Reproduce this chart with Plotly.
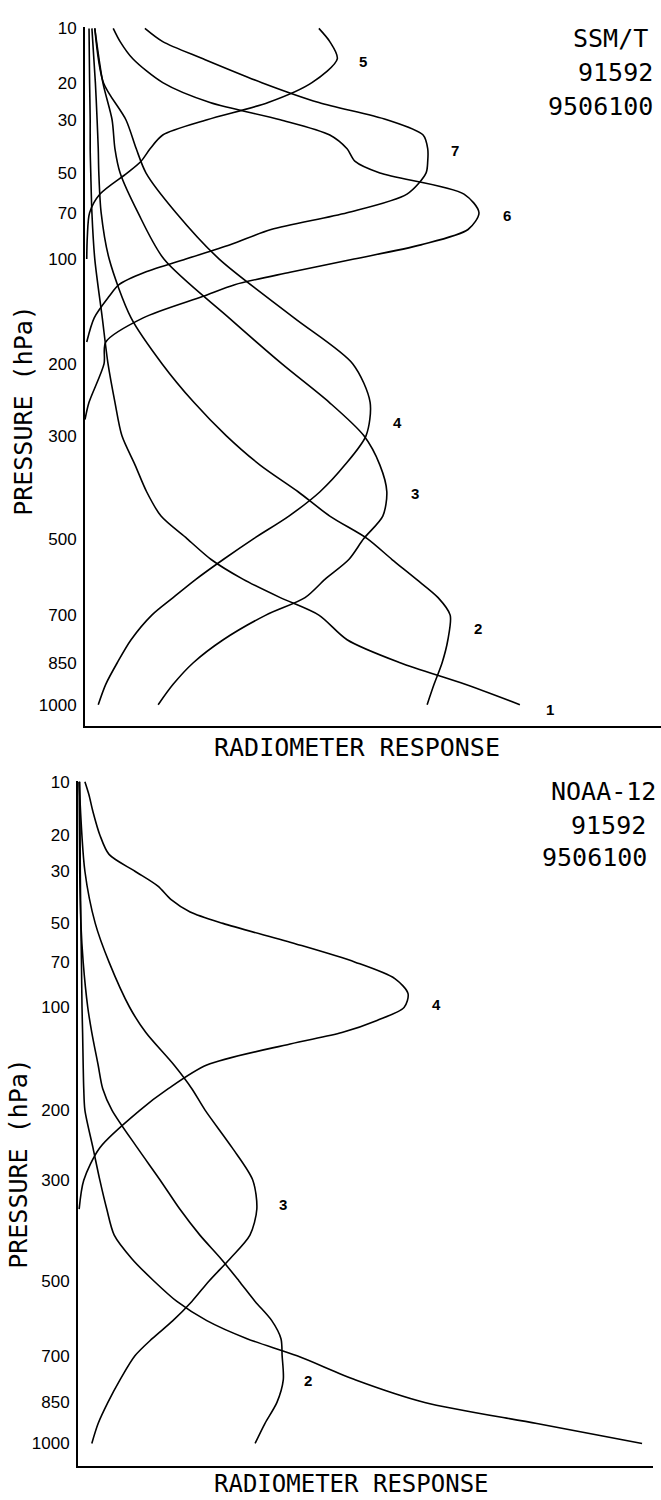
import numpy as np
import plotly.graph_objects as go

# ---------------- data ----------------
KAPPA = 0.286  # pressure axis drawn in p**kappa (height-like) coordinates

PRESSURE_TICKS = [10, 20, 30, 50, 70, 100, 200, 300, 500, 700, 850, 1000]
PRESSURE_TICK_TEXT = ["10", "20", "30", "50", "70", "100", "200", "300", "500", "700", "850", "1000"]

# --- SSM/T (top panel) ---
ssmt_p_grid = [10, 20, 30, 40, 50, 70, 100, 150, 200, 250, 300, 350, 400, 450, 500,
               550, 600, 650, 700, 775, 850, 925, 1000]
ssmt_ch1 = [0.7, 0.8, 0.9, 0.9, 1.0, 1.2, 1.7, 3.0, 4.0, 5.2, 6.4, 8.7, 10.7, 13.2, 17.7,
            21.9, 27.4, 33.9, 40.6, 45.5, 54.7, 66.0, 75.5]
ssmt_ch2 = [1.2, 1.8, 2.1, 2.3, 2.4, 2.8, 4.2, 8.0, 13.4, 18.9, 24.5, 30.4, 37.0, 42.5, 49.0,
            53.3, 57.5, 61.3, 63.4, 63.0, 62.0, 60.6, 59.4]
ssmt_ch3 = [1.7, 3.1, 4.7, 5.2, 6.1, 9.2, 13.7, 25.0, 34.2, 42.4, 48.4, 51.2, 52.4, 51.7, 48.4,
            45.8, 41.7, 38.2, 31.4, 24.0, 18.8, 15.3, 12.7]
ssmt_ch4 = [1.7, 3.2, 7.1, 8.9, 10.6, 15.8, 23.3, 36.3, 46.5, 49.5, 48.8, 45.1, 40.8, 35.4, 29.3,
            24.0, 19.3, 15.3, 11.6, 8.0, 5.6, 3.6, 2.3]

ssmt_ch5_p = [10, 12, 15, 20, 25, 30, 35, 40, 45, 50, 60, 70, 85, 100]
ssmt_ch5 = [40.6, 42.5, 43.8, 39.4, 31.8, 21.2, 13.5, 11.3, 9.7, 7.3, 2.6, 0.8, 0.4, 0.3]

ssmt_ch6_p = [10, 12, 15, 20, 25, 30, 35, 40, 45, 50, 60, 70, 80, 90, 100, 110, 120, 130,
              150, 175, 200, 250, 275]
ssmt_ch6 = [4.9, 6.1, 8.3, 13.5, 21.7, 33.9, 42.5, 45.5, 46.9, 51.2, 65.8, 68.4, 66.5, 58.3,
            46.7, 35.6, 26.0, 20.5, 10.1, 3.6, 3.3, 0.7, 0.0]

ssmt_ch7_p = [10, 12, 15, 20, 25, 30, 35, 40, 45, 50, 60, 70, 80, 90, 100, 110, 120, 130,
              150, 175]
ssmt_ch7 = [10.4, 13.5, 20.5, 30.7, 40.6, 52.4, 58.7, 59.5, 59.5, 59.2, 55.9, 45.5, 32.3, 25.2,
            17.5, 10.4, 5.9, 4.2, 1.6, 0.3]

ssmt_label_text = ["1", "2", "3", "4", "5", "6", "7"]
ssmt_label_p = [1019, 739, 404, 280, 15.6, 71.6, 40.7]
ssmt_label_r = [80.7, 68.2, 57.3, 54.3, 48.3, 73.3, 64.2]

# --- NOAA-12 (bottom panel) ---
noaa_p_grid = [10, 30, 50, 70, 100, 120, 150, 175, 200, 250, 300, 350, 400, 450, 500,
               550, 600, 650, 700, 775, 850, 925, 1000]
noaa_ch1 = [0.3, 0.4, 0.5, 0.6, 0.7, 0.8, 0.9, 1.0, 1.2, 2.6, 3.8, 5.0, 6.3, 9.4, 13.2,
            17.2, 22.4, 29.4, 38.1, 48.3, 60.3, 79.8, 98.1]
noaa_ch2 = [0.2, 0.3, 0.5, 0.9, 1.7, 2.4, 3.5, 4.3, 5.9, 10.3, 14.3, 17.7, 21.2, 24.9, 28.0,
            30.8, 33.7, 35.3, 35.5, 35.7, 34.6, 32.5, 30.8]
noaa_ch3 = [0.2, 1.2, 3.0, 5.4, 9.0, 11.8, 16.7, 19.8, 22.1, 26.8, 30.4, 31.1, 29.9, 26.4, 22.8,
            19.8, 16.5, 12.9, 9.9, 7.3, 5.2, 3.5, 2.4]

noaa_ch4_p = [10, 12, 15, 20, 25, 30, 35, 40, 45, 50, 60, 70, 80, 90, 100, 110, 120, 130,
              150, 175, 200, 250, 300, 350]
noaa_ch4 = [1.2, 1.9, 2.6, 3.8, 5.4, 9.9, 13.9, 16.2, 19.5, 25.2, 37.9, 48.2, 55.1, 57.4,
            56.7, 52.0, 45.9, 36.9, 22.4, 15.7, 10.8, 3.8, 1.0, 0.2]

noaa_label_text = ["2", "3", "4"]
noaa_label_p = [777, 342, 97.9]
noaa_label_r = [40.0, 35.7, 62.4]


def tp(p):
    return np.power(np.asarray(p, dtype=float), KAPPA)


W, H = 661, 1500
LINE = dict(color="black", width=1.6, shape="spline", smoothing=0.8)
MONO = "DejaVu Sans Mono"

fig = go.Figure()

top_series = [(ssmt_p_grid, ssmt_ch1), (ssmt_p_grid, ssmt_ch2), (ssmt_p_grid, ssmt_ch3),
              (ssmt_p_grid, ssmt_ch4), (ssmt_ch5_p, ssmt_ch5), (ssmt_ch6_p, ssmt_ch6),
              (ssmt_ch7_p, ssmt_ch7)]
for p, r in top_series:
    fig.add_trace(go.Scatter(x=r, y=tp(p), mode="lines", line=LINE, xaxis="x", yaxis="y",
                             showlegend=False, hoverinfo="skip"))

bot_series = [(noaa_p_grid, noaa_ch1), (noaa_p_grid, noaa_ch2), (noaa_p_grid, noaa_ch3),
              (noaa_ch4_p, noaa_ch4)]
for p, r in bot_series:
    fig.add_trace(go.Scatter(x=r, y=tp(p), mode="lines", line=LINE, xaxis="x2", yaxis="y2",
                             showlegend=False, hoverinfo="skip"))

# axis geometry (pixels)
top_ax = dict(left=85, right=661, top=19, bottom=722, px_per_unit=128.8, y10=20.5)
bot_ax = dict(left=78, right=653, top=777, bottom=1466, px_per_unit=126.0, y10=778)


def yrange(ax):
    t10 = tp(10)
    t_top = t10 - (ax["y10"] - ax["top"]) / ax["px_per_unit"]
    t_bot = t10 + (ax["bottom"] - ax["y10"]) / ax["px_per_unit"]
    return [t_bot, t_top]


common_x = dict(range=[0, 100], showline=True, linecolor="black", linewidth=2,
                showticklabels=False, ticks="", showgrid=False, zeroline=False)
common_y = dict(tickvals=list(tp(PRESSURE_TICKS)), ticktext=PRESSURE_TICK_TEXT,
                showline=True, linecolor="black", linewidth=2, showgrid=False,
                zeroline=False, ticks="", ticklabelstandoff=3,
                tickfont=dict(family="Liberation Sans", size=17, color="black"))

fig.update_layout(
    width=W, height=H, margin=dict(l=0, r=0, t=0, b=0),
    paper_bgcolor="white", plot_bgcolor="white", showlegend=False,
    xaxis=dict(domain=[top_ax["left"] / W, top_ax["right"] / W], anchor="y", **common_x),
    yaxis=dict(domain=[1 - top_ax["bottom"] / H, 1 - top_ax["top"] / H], range=yrange(top_ax),
               anchor="x", **common_y),
    xaxis2=dict(domain=[bot_ax["left"] / W, bot_ax["right"] / W], anchor="y2", **common_x),
    yaxis2=dict(domain=[1 - bot_ax["bottom"] / H, 1 - bot_ax["top"] / H], range=yrange(bot_ax),
                anchor="x2", **common_y),
)

ann = []
# curve labels
for t, p, r in zip(ssmt_label_text, ssmt_label_p, ssmt_label_r):
    ann.append(dict(x=r, y=float(tp(p)), xref="x", yref="y", text="<b>" + t + "</b>",
                    showarrow=False,
                    font=dict(family="Liberation Sans", size=15, color="black"),
                    xanchor="center", yanchor="middle"))
for t, p, r in zip(noaa_label_text, noaa_label_p, noaa_label_r):
    ann.append(dict(x=r, y=float(tp(p)), xref="x2", yref="y2", text="<b>" + t + "</b>",
                    showarrow=False,
                    font=dict(family="Liberation Sans", size=15, color="black"),
                    xanchor="center", yanchor="middle"))


def paper_text(text, px, py, size=25, angle=0):
    return dict(x=px / W, y=1 - py / H, xref="paper", yref="paper", text=text,
                showarrow=False, textangle=angle, xanchor="center", yanchor="middle",
                font=dict(family=MONO, size=size, color="black"))


ann += [
    paper_text("PRESSURE (hPa)", 24, 405, angle=-90),
    paper_text("PRESSURE (hPa)", 19, 1162, angle=-90),
    paper_text("RADIOMETER RESPONSE", 357, 743),
    paper_text("RADIOMETER RESPONSE", 351, 1484, size=24),
    paper_text("SSM/T", 610, 31),
    paper_text("91592", 615, 65),
    paper_text("9506100", 600, 99),
    paper_text("NOAA-12", 603, 788),
    paper_text("91592", 608, 822),
    paper_text("9506100", 594, 854),
]
fig.update_layout(annotations=ann)

fig.write_html("out.html")
